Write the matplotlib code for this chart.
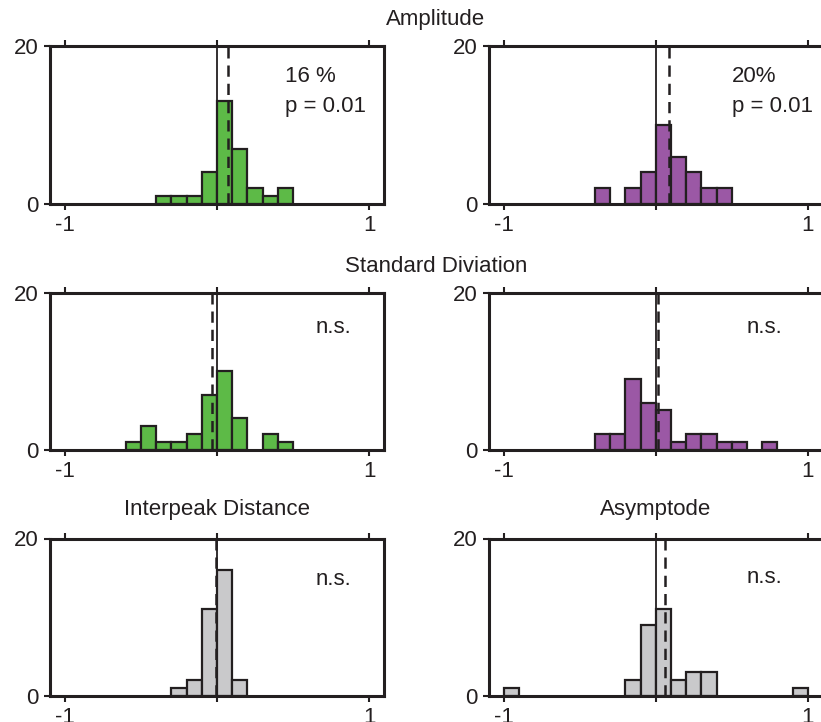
import numpy as np
import matplotlib
matplotlib.use("Agg")
import matplotlib.pyplot as plt

# bins of width 0.1 between -1 and 1 (left edges)
bin_left = np.round(np.arange(-1.0, 1.0, 0.1), 2)
bin_width = 0.1

# counts per bin
amp_green = [0, 0, 0, 0, 0, 0, 1, 1, 1, 4, 13, 7, 2, 1, 2, 0, 0, 0, 0, 0]
amp_purple = [0, 0, 0, 0, 0, 0, 2, 0, 2, 4, 10, 6, 4, 2, 2, 0, 0, 0, 0, 0]
sd_green = [0, 0, 0, 0, 1, 3, 1, 1, 2, 7, 10, 4, 0, 2, 1, 0, 0, 0, 0, 0]
sd_purple = [0, 0, 0, 0, 0, 0, 2, 2, 9, 6, 5, 1, 2, 2, 1, 1, 0, 1, 0, 0]
ipd_gray = [0, 0, 0, 0, 0, 0, 0, 1, 2, 11, 16, 2, 0, 0, 0, 0, 0, 0, 0, 0]
asym_gray = [1, 0, 0, 0, 0, 0, 0, 0, 2, 9, 11, 2, 3, 3, 0, 0, 0, 0, 0, 1]

# medians (dashed lines)
medians = [0.072, 0.088, -0.03, 0.013, -0.01, 0.062]

# annotations inside each panel
notes = [["16 %", "p = 0.01"], ["20%", "p = 0.01"],
         ["n.s."], ["n.s."], ["n.s."], ["n.s."]]

green = "#5dba47"
purple = "#9b58a5"
gray = "#c9c9cb"
ink = "#231f20"

plt.rcParams['font.family'] = ['Liberation Sans', 'DejaVu Sans']
plt.rcParams['font.size'] = 16
plt.rcParams['text.color'] = ink

fig = plt.figure(figsize=(8.21, 7.22), dpi=100)

W, H = 821.0, 722.0
col_left = [49.8, 488.5]
ax_w = 334.5
rows = [(46, 204), (293, 449.5), (538.5, 695.7)]

panels = [
    (amp_green, green), (amp_purple, purple),
    (sd_green, green), (sd_purple, purple),
    (ipd_gray, gray), (asym_gray, gray),
]
note_x = [0.45, 0.5, 0.65, 0.60, 0.65, 0.60]
note_y = [[15.4, 11.6], [15.4, 11.6], [14.9], [14.9], [14.1], [14.3]]

for k, (counts, color) in enumerate(panels):
    r, c = divmod(k, 2)
    top, bot = rows[r]
    ax = fig.add_axes([col_left[c] / W, 1 - bot / H, ax_w / W, (bot - top) / H])

    counts = np.array(counts)
    mask = counts > 0
    ax.bar(bin_left[mask], counts[mask], width=bin_width, align='edge',
           color=color, edgecolor=ink, linewidth=1.6, zorder=2)

    # zero line and median
    ax.axvline(0, color=ink, linewidth=1.3, zorder=3)
    ax.axvline(medians[k], color=ink, linewidth=1.8, linestyle=(0, (4.5, 2.8)), zorder=3)

    ax.set_xlim(-1.1, 1.1)
    ax.set_ylim(0, 20)
    ax.set_xticks([-1, 0, 1])
    ax.set_xticklabels(['-1', '', '1'])
    ax.set_yticks([0, 20])
    ax.set_yticklabels(['0', '20'])
    ax.tick_params(axis='x', direction='out', top=True, length=4, width=1.5,
                   color=ink, labelcolor=ink, pad=4)
    ax.tick_params(axis='y', direction='out', length=4, width=1.5,
                   color=ink, labelcolor=ink, pad=4)
    for s in ax.spines.values():
        s.set_linewidth(2.2)
        s.set_color(ink)
        s.set_zorder(4)

    for txt, y in zip(notes[k], note_y[k]):
        ax.text(note_x[k], y, txt, ha='left', va='baseline')

# panel titles
fig.text(436 / W, 1 - 19 / H, "Amplitude", ha='center', va='center')
fig.text(436 / W, 1 - 267 / H, "Standard Diviation", ha='center', va='center')
fig.text(217 / W, 1 - 509 / H, "Interpeak Distance", ha='center', va='center')
fig.text(655.7 / W, 1 - 509 / H, "Asymptode", ha='center', va='center')

plt.savefig("out.png", dpi=100)
